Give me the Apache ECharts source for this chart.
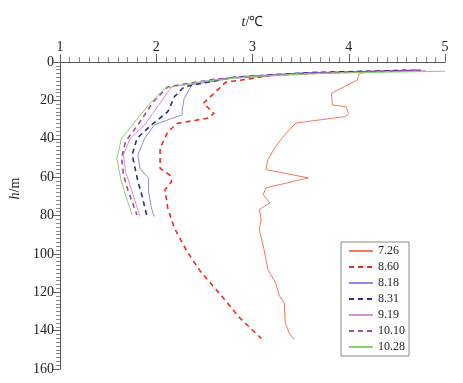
<!DOCTYPE html>
<html>
<head>
<meta charset="utf-8">
<script src="https://cdn.jsdelivr.net/npm/echarts@6/dist/echarts.min.js"></script>
<style>html,body{margin:0;padding:0;background:#fff}#c{width:463px;height:383px}</style>
</head>
<body>
<div id="c"></div>
<script>
// names of the series (legend labels)
var seriesNames = ['7.26', '8.60', '8.18', '8.31', '9.19', '10.10', '10.28'];
// each profile: [temperature t (°C), depth h (m)]
var s0726 = [[4.65,4.3],[4.3,5.0],[4.11,5.9],[4.09,9.4],[3.82,16.3],[3.83,22.4],[3.97,23.3],[4.00,26.8],[3.96,28.5],[3.45,31.8],[3.35,37],[3.24,44],[3.16,50.9],[3.14,56.1],[3.58,60.4],[3.14,65.6],[3.11,69.1],[3.18,73.4],[3.07,76.9],[3.09,82.1],[3.07,87.3],[3.12,97.8],[3.16,108.2],[3.24,115.1],[3.28,122],[3.33,125.5],[3.34,135.9],[3.38,141.1],[3.43,144.6]];
var s0860 = [[4.6,4.3],[3.8,5.5],[3.2,7],[2.72,10.6],[2.49,21.5],[2.60,26.8],[2.53,29.3],[2.22,32],[2.12,36.3],[2.04,45],[2.04,55.4],[2.14,58.9],[2.16,62.3],[2.09,66.7],[2.12,76.2],[2.19,86.7],[2.32,98.8],[2.46,109.2],[2.67,121.4],[2.87,133.5],[3.09,144]];
var s0818 = [[4.75,4.3],[3.6,5.5],[2.9,7.5],[2.37,11.8],[2.29,19],[2.27,24.8],[2.27,27.6],[2.16,29.4],[1.98,32.8],[1.88,39.8],[1.81,48.4],[1.83,55.4],[1.92,60.6],[1.92,67.6],[1.95,76.2],[1.98,80.6]];
var s0831 = [[4.7,4.3],[3.6,5.5],[2.8,8],[2.29,12.9],[2.19,18],[2.12,25.9],[1.95,32.8],[1.80,39.8],[1.75,48.4],[1.78,55.4],[1.81,62.3],[1.85,69.3],[1.90,79.7]];
var s0919 = [[4.8,4.5],[3.5,6],[2.7,8.5],[2.16,12.9],[2.00,24.2],[1.88,32.8],[1.73,39.8],[1.66,48.4],[1.68,57.1],[1.75,67.6],[1.83,80.6]];
var s1010 = [[4.75,4.3],[3.5,6],[2.6,9],[2.12,12.9],[1.97,20.7],[1.81,32.8],[1.68,41.5],[1.64,50.2],[1.66,58.9],[1.71,67.6],[1.80,79.7]];
var s1028 = [[5.0,4.8],[3.8,5.8],[3.0,7.5],[2.5,10],[2.09,13.7],[1.92,22.4],[1.78,31.1],[1.64,39.8],[1.59,50.2],[1.63,60.6],[1.68,69.3],[1.75,79.7]];
// axis ranges / ticks
var xTicks = [1, 2, 3, 4, 5];
var yTicks = [0, 20, 40, 60, 80, 100, 120, 140, 160];

var dataList = [s0726, s0860, s0818, s0831, s0919, s1010, s1028];
var colors = ['#f47a5c', '#f02a1e', '#8c8cdc', '#2a2a96', '#d890d8', '#a04aa0', '#88d070'];
var dashed = [false, true, false, true, false, true, false];
var font = 'Liberation Serif';

var chart = echarts.init(document.getElementById('c'), null, {renderer: 'canvas'});
var series = seriesNames.map(function (n, i) {
  return {
    name: n, type: 'line', data: dataList[i], showSymbol: false, symbol: 'none',
    smooth: false, animation: false,
    lineStyle: {color: colors[i], width: dashed[i] ? 1.6 : 1, type: dashed[i] ? [5, 4] : 'solid'},
    itemStyle: {color: colors[i]}
  };
});
chart.setOption({
  animation: false,
  backgroundColor: '#fff',
  grid: {left: 53, top: 62, right: 18, bottom: 14},
  xAxis: {
    type: 'value', position: 'top', min: xTicks[0], max: xTicks[xTicks.length - 1], interval: 1,
    name: '{i|t}/℃', nameLocation: 'middle', nameGap: 33,
    nameTextStyle: {fontFamily: font, fontSize: 14, color: '#222', rich: {i: {fontStyle: 'italic', fontFamily: font, fontSize: 14}}},
    axisLine: {show: true, lineStyle: {color: '#555', width: 1}},
    axisTick: {show: true, inside: false, length: 8, lineStyle: {color: '#666'}},
    minorTick: {show: true, splitNumber: 10, length: 5, lineStyle: {color: '#888'}},
    splitLine: {show: false},
    axisLabel: {fontFamily: font, fontSize: 14, color: '#222', margin: 8}
  },
  yAxis: {
    type: 'value', inverse: true, min: yTicks[0], max: yTicks[yTicks.length - 1], interval: 20,
    name: '{i|h}/m', nameLocation: 'middle', nameGap: 38, nameRotate: 90,
    nameTextStyle: {fontFamily: font, fontSize: 14, color: '#222', padding: [0, 0, 0, 54], rich: {i: {fontStyle: 'italic', fontFamily: font, fontSize: 14}}},
    axisLine: {show: true, onZero: false, lineStyle: {color: '#555', width: 1}},
    axisTick: {show: true, inside: false, length: 7, lineStyle: {color: '#666'}},
    minorTick: {show: true, splitNumber: 10, length: 4, lineStyle: {color: '#888'}},
    splitLine: {show: false},
    axisLabel: {fontFamily: font, fontSize: 14, color: '#222', margin: 6}
  },
  legend: {
    orient: 'vertical', left: 341, top: 242,
    backgroundColor: '#fff', borderColor: '#888', borderWidth: 1,
    padding: [3, 4, 3, 7], itemWidth: 24, itemHeight: 10, itemGap: 4,
    itemStyle: {opacity: 0, borderWidth: 0},
    textStyle: {fontFamily: font, fontSize: 12, color: '#222'},
    data: seriesNames
  },
  series: series
});
</script>
</body>
</html>
